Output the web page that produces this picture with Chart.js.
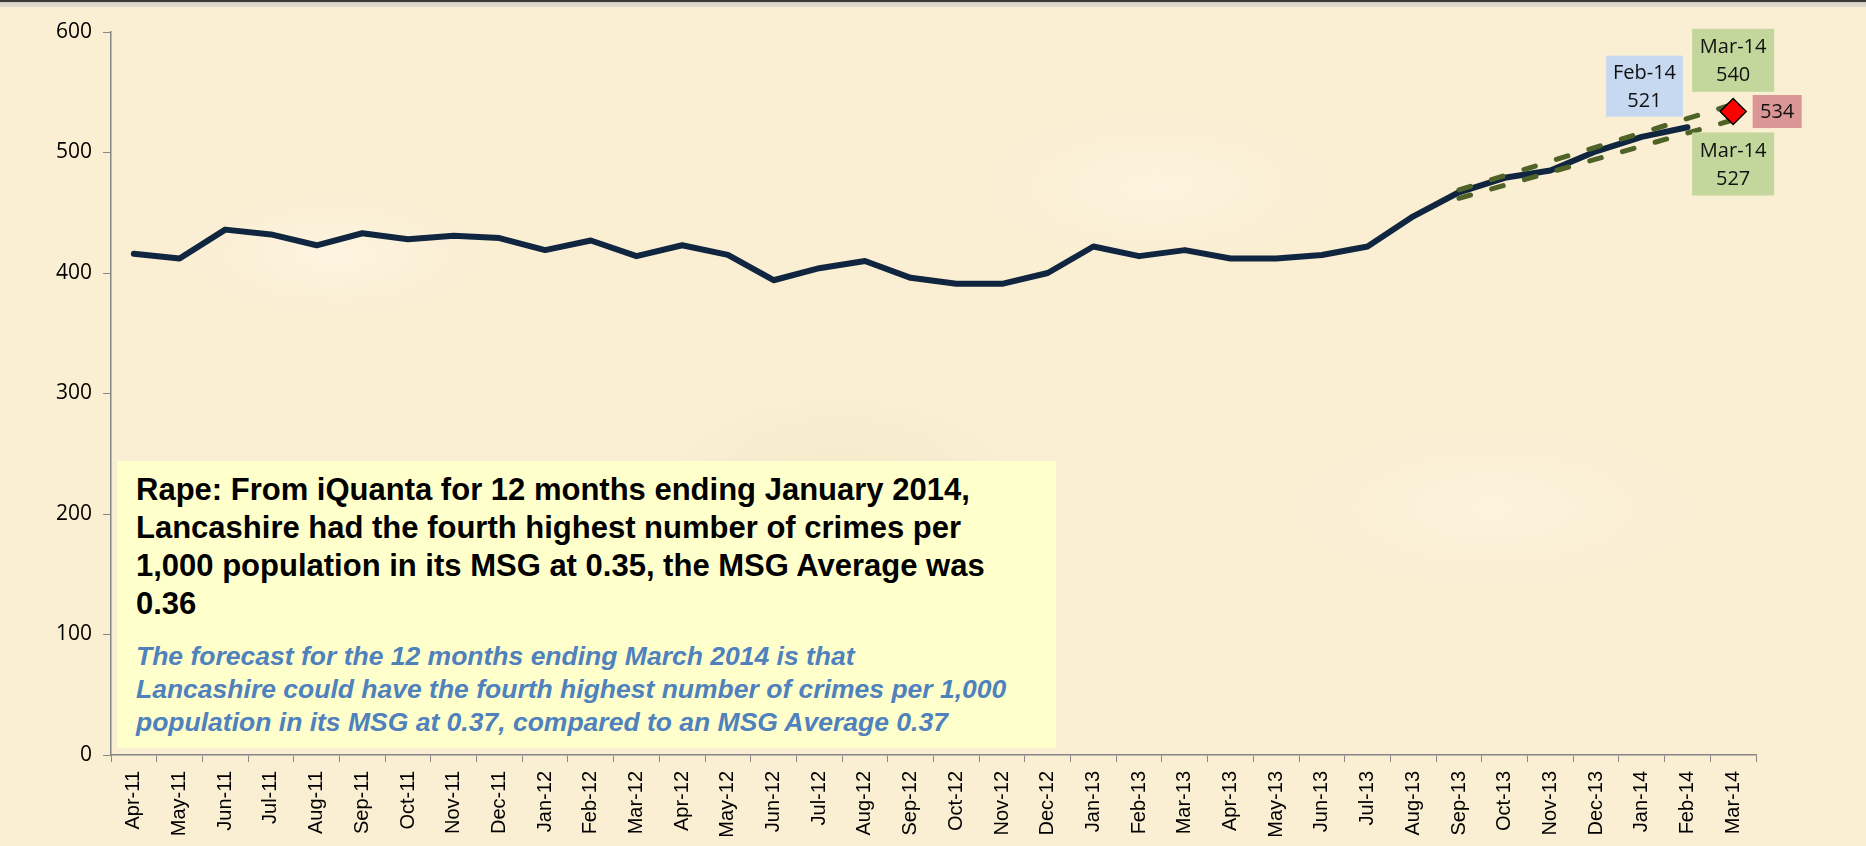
<!DOCTYPE html>
<html>
<head>
<meta charset="utf-8">
<script src="https://cdn.jsdelivr.net/npm/chart.js@4.4.1/dist/chart.umd.min.js"></script>
<style>
  html, body { margin: 0; padding: 0; }
  body {
    width: 1866px; height: 846px; overflow: hidden; position: relative;
    background-color: #FAEED3;
    background-image:
      radial-gradient(ellipse 220px 90px at 18% 30%, rgba(255,250,235,0.55), rgba(255,250,235,0) 70%),
      radial-gradient(ellipse 260px 110px at 62% 22%, rgba(255,250,235,0.5), rgba(255,250,235,0) 70%),
      radial-gradient(ellipse 240px 100px at 45% 55%, rgba(240,225,190,0.35), rgba(240,225,190,0) 70%),
      radial-gradient(ellipse 300px 120px at 80% 60%, rgba(255,250,235,0.45), rgba(255,250,235,0) 70%);
  }
  #topbar {
    position: absolute; left: 0; top: 0; width: 1866px; height: 7px;
    background: linear-gradient(#3a3a3a 0, #3a3a3a 2px, #d2cec2 2px, #e2ddcf 7px);
  }
  #chart { position: absolute; left: 0; top: 0; }
  #note {
    position: absolute; left: 117px; top: 461px; width: 939px; height: 287px;
    box-sizing: border-box; padding: 10px 0 0 19px;
    background: #FFFFCC;
    font-family: 'Liberation Sans', Arial, sans-serif;
    white-space: nowrap;
  }
  #note .main { font-weight: bold; font-size: 31px; line-height: 38px; color: #000; }
  #note .forecast { margin-top: 17px; font-weight: bold; font-style: italic; font-size: 26.5px; line-height: 33px; color: #4F81BD; }
</style>
</head>
<body>
<div id="topbar"></div>
<canvas id="chart" width="1866" height="846"></canvas>
<div id="note">
  <div class="main">Rape: From iQuanta for 12 months ending January 2014,<br>Lancashire had the fourth highest number of crimes per<br>1,000 population in its MSG at 0.35, the MSG Average was<br>0.36</div>
  <div class="forecast">The forecast for the 12 months ending March 2014 is that<br>Lancashire could have the fourth highest number of crimes per 1,000<br>population in its MSG at 0.37, compared to an MSG Average 0.37</div>
</div>
<script>
// Months on the category axis
const months = [
    'Apr-11', 'May-11', 'Jun-11', 'Jul-11', 'Aug-11', 'Sep-11', 'Oct-11', 'Nov-11', 'Dec-11',
    'Jan-12', 'Feb-12', 'Mar-12', 'Apr-12', 'May-12', 'Jun-12', 'Jul-12', 'Aug-12', 'Sep-12',
    'Oct-12', 'Nov-12', 'Dec-12', 'Jan-13', 'Feb-13', 'Mar-13', 'Apr-13', 'May-13', 'Jun-13',
    'Jul-13', 'Aug-13', 'Sep-13', 'Oct-13', 'Nov-13', 'Dec-13', 'Jan-14', 'Feb-14', 'Mar-14'
];

// Rolling 12 month crime count
const crimes = [
    416, 412, 436, 432, 423, 433, 428, 431, 429,
    419, 427, 414, 423, 415, 394, 404, 410, 396,
    391, 391, 400, 422, 414, 419, 412, 412, 415,
    422, 447, 467, 479, 485, 501, 513, 521, null
];

// Forecast band (dashed) and the forecast point for Mar-14
const upperForecast = [
    null, null, null, null, null, null, null, null, null,
    null, null, null, null, null, null, null, null, null,
    null, null, null, null, null, null, null, null, null,
    null, null, 469, null, null, null, null, null, 540
];
const lowerForecast = [
    null, null, null, null, null, null, null, null, null,
    null, null, null, null, null, null, null, null, null,
    null, null, null, null, null, null, null, null, null,
    null, null, 462, null, null, null, null, null, 527
];
const forecastPoint = [
    null, null, null, null, null, null, null, null, null,
    null, null, null, null, null, null, null, null, null,
    null, null, null, null, null, null, null, null, null,
    null, null, null, null, null, null, null, null, 534
];

const yMin = 0;
const yMax = 600;
const yStep = 100;

const colors = {
    line: '#10253F',
    band: '#4F6228',
    point: '#FF0000',
    axis: '#868686',
    text: '#000000',
    blueBox: '#C6D9F1',
    greenBox: '#C3D69B',
    redBox: '#D99694'
};

// Callout boxes: which dataset/point they belong to, and how they sit around it
const callouts = [
    { ds: 0, idx: 34, withMonth: true, fill: colors.blueBox, dx: -43, dy: -41, w: 77, h: 61 },
    { ds: 1, idx: 35, withMonth: true, fill: colors.greenBox, dx: 0, dy: -44, w: 82, h: 63 },
    { ds: 3, idx: 35, withMonth: false, fill: colors.redBox, dx: 44, dy: 0, w: 49, h: 33 },
    { ds: 2, idx: 35, withMonth: true, fill: colors.greenBox, dx: 0, dy: 44, w: 82, h: 63 }
];

const calloutPlugin = {
    id: 'callouts',
    afterDatasetsDraw(chart) {
        const ctx = chart.ctx;
        ctx.save();
        ctx.font = '20px "Open Sans", "Liberation Sans", sans-serif';
        ctx.textAlign = 'center';
        ctx.textBaseline = 'middle';
        callouts.forEach(function(c) {
            const pt = chart.getDatasetMeta(c.ds).data[c.idx];
            const value = chart.data.datasets[c.ds].data[c.idx];
            const cx = pt.x + c.dx;
            const cy = pt.y + c.dy;
            ctx.fillStyle = c.fill;
            ctx.fillRect(cx - c.w / 2, cy - c.h / 2, c.w, c.h);
            ctx.fillStyle = '#111';
            const lines = c.withMonth ? [months[c.idx], String(value)] : [String(value)];
            const lh = 28;
            lines.forEach(function(t, i) {
                ctx.fillText(t, cx, cy + 1 + (i - (lines.length - 1) / 2) * lh);
            });
        });
        ctx.restore();
    }
};

new Chart(document.getElementById('chart').getContext('2d'), {
    type: 'line',
    data: {
        labels: months,
        datasets: [{
            label: 'Crimes',
            data: crimes,
            borderColor: colors.line,
            borderWidth: 6,
            borderJoinStyle: 'round',
            borderCapStyle: 'round',
            pointRadius: 0,
            tension: 0,
            order: 3
        }, {
            label: 'Upper forecast',
            data: upperForecast,
            borderColor: colors.band,
            borderWidth: 5,
            borderDash: [12, 22],
            borderCapStyle: 'round',
            spanGaps: true,
            pointRadius: 0,
            order: 2
        }, {
            label: 'Lower forecast',
            data: lowerForecast,
            borderColor: colors.band,
            borderWidth: 5,
            borderDash: [12, 22],
            borderCapStyle: 'round',
            spanGaps: true,
            pointRadius: 0,
            order: 2
        }, {
            label: 'Forecast',
            data: forecastPoint,
            showLine: false,
            pointStyle: 'rectRot',
            pointRadius: 13,
            pointBackgroundColor: colors.point,
            pointBorderColor: '#000',
            pointBorderWidth: 1.5,
            order: 1
        }]
    },
    options: {
        responsive: false,
        animation: false,
        devicePixelRatio: 1,
        layout: {
            padding: { top: 32, right: 110, left: 0, bottom: 0 }
        },
        plugins: {
            legend: { display: false },
            tooltip: { enabled: false }
        },
        scales: {
            x: {
                offset: true,
                grid: {
                    offset: true,
                    drawOnChartArea: false,
                    drawTicks: true,
                    tickLength: 7,
                    color: colors.axis
                },
                border: { display: true, color: colors.axis, width: 1.5 },
                ticks: {
                    autoSkip: false,
                    minRotation: 90,
                    maxRotation: 90,
                    padding: 9,
                    color: colors.text,
                    font: { family: '"Liberation Sans", Arial, sans-serif', size: 20 }
                },
                afterFit: function(scale) { scale.height = 91; }
            },
            y: {
                min: yMin,
                max: yMax,
                grid: {
                    drawOnChartArea: false,
                    drawTicks: true,
                    tickLength: 8,
                    color: colors.axis
                },
                border: { display: true, color: colors.axis, width: 1.5 },
                ticks: {
                    stepSize: yStep,
                    padding: 11,
                    color: colors.text,
                    font: { family: '"Open Sans", "Liberation Sans", sans-serif', size: 21 }
                },
                afterFit: function(scale) { scale.width = 111; }
            }
        }
    },
    plugins: [calloutPlugin]
});
</script>
</body>
</html>
